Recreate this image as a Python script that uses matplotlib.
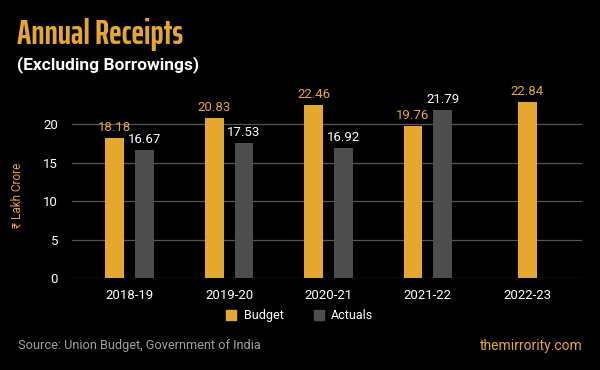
import matplotlib
matplotlib.use('Agg')
import matplotlib.pyplot as plt
import numpy as np

# Data
years = ['2018-19', '2019-20', '2020-21', '2021-22', '2022-23']
budget = [18.18, 20.83, 22.46, 19.76, 22.84]
actuals = [16.67, 17.53, 16.92, 21.79, None]

gold = '#E5A82E'
grey = '#4D4D4D'

plt.rcParams['font.family'] = ['Roboto', 'DejaVu Sans']

fig = plt.figure(figsize=(6, 3.7), dpi=100)
fig.patch.set_facecolor('black')
ax = fig.add_axes([0.12, 0.2486, 0.85, 0.52])
ax.set_facecolor('black')

x = np.arange(len(years))
w = 0.19
off = 0.15

for i in range(len(years)):
    # 2022-23 has no actuals yet, so the budget bar sits in the middle
    if actuals[i] is None:
        bx = x[i]
    else:
        bx = x[i] - off
    ax.bar(bx, budget[i], width=w, color=gold, zorder=3)
    ax.text(bx, budget[i] + 0.5, f'{budget[i]:.2f}', ha='center', va='bottom',
            color=gold, fontsize=9.5)
    if actuals[i] is not None:
        ax.bar(x[i] + off, actuals[i], width=w, color=grey, zorder=3)
        ax.text(x[i] + off, actuals[i] + 0.5, f'{actuals[i]:.2f}', ha='center',
                va='bottom', color='white', fontsize=9.5)

ax.set_xlim(-0.58, 4.55)
ax.set_ylim(0, 25)
ax.set_yticks([0, 5, 10, 15, 20])
ax.set_xticks(x)
ax.set_xticklabels(years)
ax.yaxis.grid(True, color='#555555', linewidth=0.9, zorder=0)
ax.tick_params(axis='both', length=0, colors='white', labelsize=9.5)
ax.tick_params(axis='y', pad=10)
ax.tick_params(axis='x', pad=8)
for s in ax.spines.values():
    s.set_visible(False)
ax.set_ylabel('₹ Lakh Crore', color=gold, fontsize=8.5, labelpad=8)
ax.yaxis.set_label_coords(-0.095, 0.43)

# legend
h1 = plt.Rectangle((0, 0), 1, 1, color=gold)
h2 = plt.Rectangle((0, 0), 1, 1, color=grey)
fig.legend([h1, h2], ['Budget', 'Actuals'], loc='center', bbox_to_anchor=(0.5, 0.146),
           ncol=2, frameon=False, labelcolor='white', fontsize=9,
           handlelength=0.8, handleheight=0.8, columnspacing=2.4, handletextpad=0.6)

# titles
fig.text(0.028, 0.88, 'Annual Receipts', color=gold, fontsize=24.3, fontweight='bold',
         family=['Saira ExtraCondensed', 'Oswald', 'Roboto Condensed', 'DejaVu Sans'],
         va='baseline')
fig.text(0.028, 0.825, '(Excluding Borrowings)', color='white', fontsize=12.5,
         fontweight='bold', va='center')

# footer
fig.text(0.03, 0.065, 'Source: Union Budget, Government of India', color='#a0a0a0',
         fontsize=9.2, va='center')
fig.text(0.972, 0.065, 'themirrority.com', color=gold, fontsize=10, ha='right', va='center')

fig.savefig('out.png', dpi=100, facecolor='black')
